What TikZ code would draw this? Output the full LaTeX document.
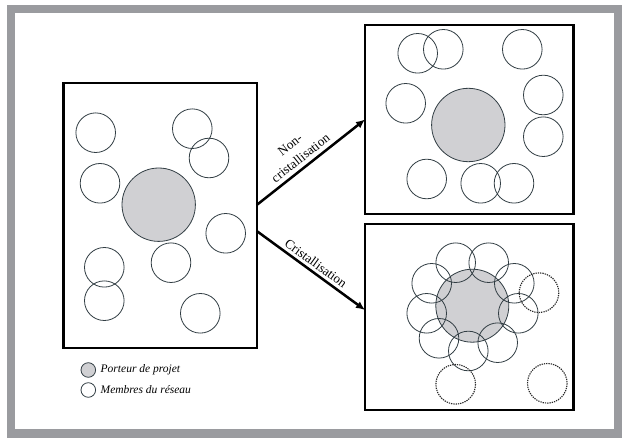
\documentclass[tikz,border=0pt]{standalone}
\usepackage{fontspec}
\setmainfont{Liberation Serif}
\usetikzlibrary{arrows.meta,calc}
\definecolor{framegray}{RGB}{154,155,159}
\definecolor{circline}{RGB}{50,62,68}
\definecolor{projfill}{RGB}{208,208,211}
\tikzset{
  panel/.style={draw=black, line width=2.4pt, inner sep=0pt, outer sep=0pt},
  memb/.style={draw=circline, line width=0.8pt},
  dmemb/.style={draw=black!85, line width=1.1pt, dash pattern=on 1.3pt off 1pt},
  proj/.style={draw=circline, line width=0.8pt, fill=projfill},
  flow/.style={line width=2.5pt, -{Latex[length=9pt,width=8pt]}},
  lbl/.style={font=\fontsize{13}{17}\selectfont, align=center, inner sep=1pt},
  legtxt/.style={font=\fontsize{11.5}{13}\selectfont\itshape, anchor=west, inner sep=0pt}
}
\begin{document}
\begin{tikzpicture}[x=1pt,y=-1pt]
\useasboundingbox (0,0) rectangle (622,438);
% outer frame
\fill[framegray] (7,5) rectangle (622,438);
\fill[white] (15,13) rectangle (614,429);

% panels
\node[panel, minimum width=193.4pt, minimum height=265pt] (L) at (160,215.8) {};
\node[panel, minimum width=208.3pt, minimum height=189pt] (TR) at (469.2,119.5) {};
\node[panel, minimum width=208.3pt, minimum height=186pt] (BR) at (469.2,317) {};

% left panel circles
\def\r{19.8}
\draw[proj] (158.7,204.7) circle[radius=36.7];
\foreach \p in {(95.7,132.7),(192.3,128.7),(209,158),(100,183.3),(225.7,233.3),(171,262.7),(104.3,267.3),(104.3,300.7),(200.3,313.3)}
  \draw[memb] \p circle[radius=\r];

% top right panel circles
\draw[proj] (468.3,125) circle[radius=36.7];
\foreach \p in {(417.7,53.3),(443.3,49.3),(522.3,49.3),(405.7,103.3),(543.3,95),(543.3,136.7),(426.7,179),(480.7,183.3),(514,183.3)}
  \draw[memb] \p circle[radius=\r];

% bottom right panel circles
\draw[proj] (472.3,305.7) circle[radius=36.5];
\foreach \p in {(455.7,262.7),(488.7,262.7),(431.7,283.3),(514.3,283.3),(426.7,313.3),(518.3,313.3),(439,338.3),(497.7,342.7),(468.3,351)}
  \draw[memb] \p circle[radius=\r];
\foreach \p in {(539,292.7),(455.7,384.3),(547.3,383.3)}
  \draw[dmemb] \p circle[radius=\r];

% arrows
\coordinate (s1) at (256.7,205);
\coordinate (s2) at (256.7,231);
\coordinate (e2) at (365,310);
\draw[flow] (s1) -- (TR.west) node[lbl, pos=0.46, sloped, above=3pt] {Non-\\cristallisation};
\draw[flow] (s2) -- (e2) node[lbl, pos=0.5, sloped, above=2pt] {Cristallisation};

% legend
\draw[proj] (88.3,370) circle[radius=7.3];
\draw[memb] (88.3,390) circle[radius=7.3];
\node[legtxt] (lg1) at (100.5,370) {Porteur de projet};
\node[legtxt] (lg2) at (100.5,390) {Membres du réseau};
\end{tikzpicture}
\end{document}
